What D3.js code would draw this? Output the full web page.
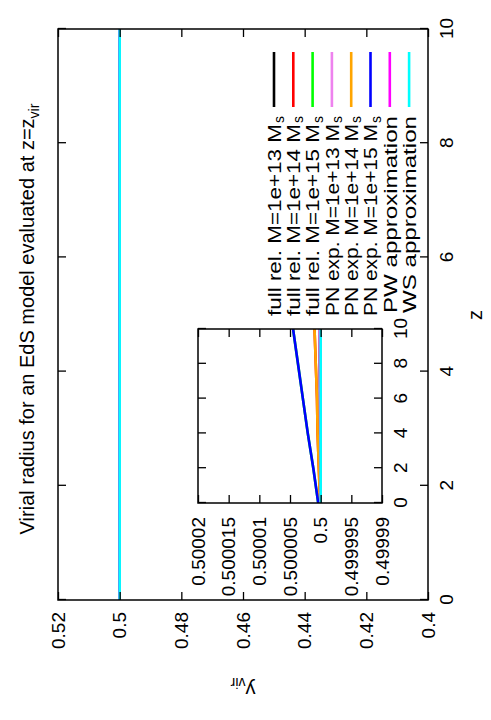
<!DOCTYPE html>
<html><head><meta charset="utf-8">
<script src="https://cdn.jsdelivr.net/npm/d3@7"></script>
<style>body{margin:0;background:#fff}svg{display:block}text{font-family:"Liberation Sans",Arial,Helvetica,sans-serif}</style>
</head><body>
<script>
// ---- data ----
const zValues = [0, 2, 4, 6, 8, 10];
const fullRel13 = [0.5, 0.50000004, 0.50000008, 0.50000012, 0.50000016, 0.5000002];
const fullRel14 = [0.5000001, 0.5000003, 0.5000005, 0.5000006, 0.5000008, 0.500001];
const fullRel15 = [0.5000004, 0.5000012, 0.5000021, 0.5000029, 0.5000037, 0.5000045];
const pnExp13 = [0.5, 0.50000004, 0.50000008, 0.50000012, 0.50000016, 0.5000002];
const pnExp14 = [0.5000001, 0.5000003, 0.5000005, 0.5000006, 0.5000008, 0.500001];
const pnExp15 = [0.5000004, 0.5000012, 0.5000021, 0.5000029, 0.5000037, 0.5000045];
const pwApprox = [0.5, 0.5, 0.5, 0.5, 0.5, 0.5];
const wsApprox = [0.5, 0.5, 0.5, 0.5, 0.5, 0.5];
const seriesNames = ["full rel. M=1e+13 M", "full rel. M=1e+14 M", "full rel. M=1e+15 M",
  "PN exp. M=1e+13 M", "PN exp. M=1e+14 M", "PN exp. M=1e+15 M", "PW approximation", "WS approximation"];
const seriesSubs = ["s", "s", "s", "s", "s", "s", "", ""];
const seriesColors = ["#000000", "#ff0000", "#00ff00", "#ee82ee", "#ffa500", "#0000ff", "#ff00ff", "#00ffff"];
const seriesValues = [fullRel13, fullRel14, fullRel15, pnExp13, pnExp14, pnExp15, pwApprox, wsApprox];
const zTicks = [0, 2, 4, 6, 8, 10];
const zTickLabels = ["0", "2", "4", "6", "8", "10"];
const yTicks = [0.4, 0.42, 0.44, 0.46, 0.48, 0.5, 0.52];
const yTickLabels = ["0.4", "0.42", "0.44", "0.46", "0.48", "0.5", "0.52"];
const insetYTicks = [0.49999, 0.499995, 0.5, 0.500005, 0.50001, 0.500015, 0.50002];
const insetYTickLabels = ["0.49999", "0.499995", "0.5", "0.500005", "0.50001", "0.500015", "0.50002"];

// ---- drawing (landscape, rotated onto the portrait page) ----
const FONT = 19;
const svg = d3.select("body").append("svg").attr("width", 491).attr("height", 720);
const g = svg.append("g").attr("transform", "translate(0,720) rotate(-90)");

function frameAxes(gr, x, y, xt, xl, yt, yl, padX, padY) {
  const fix = s => { s.select(".domain").remove(); s.selectAll("line").attr("stroke-width", 1.3);
    s.selectAll("text").attr("font-size", FONT).attr("fill", "#000"); };
  gr.append("g").attr("transform", `translate(0,${y.range()[0]})`)
    .call(d3.axisBottom(x).tickValues(xt).tickFormat((d, i) => xl[i]).tickSizeInner(-8).tickSizeOuter(0).tickPadding(padX)).call(fix);
  gr.append("g").attr("transform", `translate(0,${y.range()[1]})`)
    .call(d3.axisTop(x).tickValues(xt).tickFormat("").tickSizeInner(-8).tickSizeOuter(0)).call(fix);
  gr.append("g").attr("transform", `translate(${x.range()[0]},0)`)
    .call(d3.axisLeft(y).tickValues(yt).tickFormat((d, i) => yl[i]).tickSizeInner(-8).tickSizeOuter(0).tickPadding(padY)).call(fix);
  gr.append("g").attr("transform", `translate(${x.range()[1]},0)`)
    .call(d3.axisRight(y).tickValues(yt).tickFormat("").tickSizeInner(-8).tickSizeOuter(0)).call(fix);
  gr.selectAll(".tick text").attr("font-family", null);
}

function drawLines(gr, x, y, clipId) {
  const line = d3.line().x((d, i) => x(zValues[i])).y(d => y(d));
  seriesValues.forEach((vals, k) => {
    gr.append("path").datum(vals).attr("d", line).attr("fill", "none")
      .attr("stroke", seriesColors[k]).attr("stroke-width", 2.6).attr("clip-path", `url(#${clipId})`);
  });
}

// main plot
const x = d3.scaleLinear().domain([0, 10]).range([120, 691]);
const y = d3.scaleLinear().domain([0.4, 0.52]).range([428, 58]);
const defs = svg.append("defs");
defs.append("clipPath").attr("id", "cm").append("rect").attr("x", 120).attr("y", 58).attr("width", 571).attr("height", 370);
drawLines(g, x, y, "cm");
frameAxes(g, x, y, zTicks, zTickLabels, yTicks, yTickLabels, 12, 12);
g.append("rect").attr("x", 120).attr("y", 58).attr("width", 571).attr("height", 370)
  .attr("fill", "none").attr("stroke", "#000").attr("stroke-width", 1.5);

// legend
const legend = g.append("g");
seriesNames.forEach((name, k) => {
  const ly = 274 + k * 19.3;
  legend.append("line").attr("x1", 613).attr("x2", 668).attr("y1", ly).attr("y2", ly)
    .attr("stroke", seriesColors[k]).attr("stroke-width", 2.6);
  const hasSub = !!seriesSubs[k];
  legend.append("text").attr("x", hasSub ? 404 : 407).attr("y", ly).attr("dy", "0.36em")
    .attr("font-size", 19).attr("textLength", hasSub ? 192 : 197).attr("lengthAdjust", "spacingAndGlyphs").text(name);
  if (hasSub) {
    legend.append("text").attr("x", 597).attr("y", ly).attr("dy", "0.72em")
      .attr("font-size", 14).text(seriesSubs[k]);
  }
});

// inset
const xi = d3.scaleLinear().domain([0, 10]).range([217, 391]);
const yi = d3.scaleLinear().domain([0.49999, 0.50002]).range([382, 198]);
defs.append("clipPath").attr("id", "ci").append("rect").attr("x", 217).attr("y", 198).attr("width", 174).attr("height", 184);
g.append("rect").attr("x", 217).attr("y", 198).attr("width", 174).attr("height", 184).attr("fill", "#fff");
drawLines(g, xi, yi, "ci");
frameAxes(g, xi, yi, zTicks, zTickLabels, insetYTicks, insetYTickLabels, 12, 14);
g.append("rect").attr("x", 217).attr("y", 198).attr("width", 174).attr("height", 184)
  .attr("fill", "none").attr("stroke", "#000").attr("stroke-width", 1.5);

// title and axis labels
const title = g.append("text").attr("x", 401).attr("y", 34).attr("text-anchor", "middle").attr("font-size", 20);
title.append("tspan").text("Virial radius for an EdS model evaluated at z=z");
title.append("tspan").attr("font-size", 14).attr("dy", 5).text("vir");

g.append("text").attr("x", 405).attr("y", 482).attr("text-anchor", "middle").attr("font-size", 20).text("z");

const yl = g.append("text").attr("transform", "translate(37,243) rotate(-90)").attr("text-anchor", "middle").attr("font-size", 20);
yl.append("tspan").text("y");
yl.append("tspan").attr("font-size", 14).attr("dy", 5).text("vir");
</script>
</body></html>
